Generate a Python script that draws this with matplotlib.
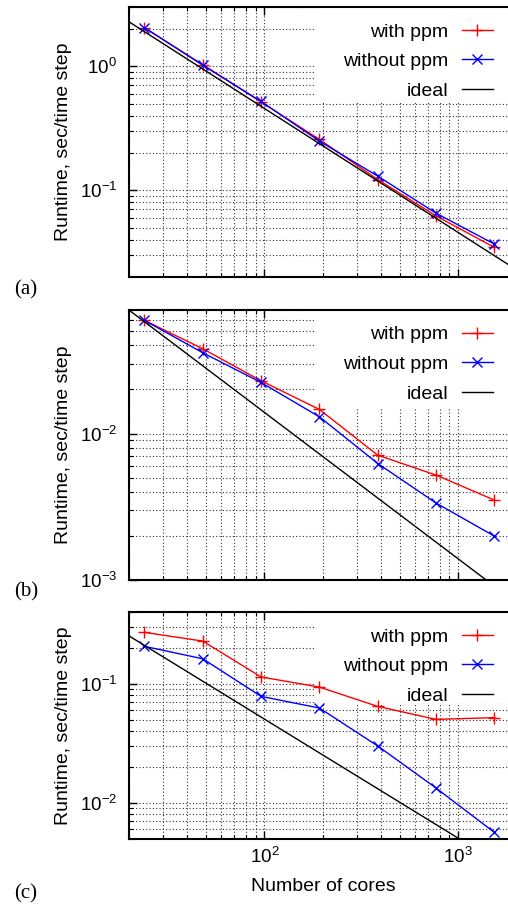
import numpy as np
import matplotlib
matplotlib.use("Agg")
import matplotlib.pyplot as plt
from matplotlib.patches import Rectangle
from matplotlib.ticker import LogLocator, NullFormatter

plt.rcParams['font.family'] = ['Liberation Sans', 'DejaVu Sans']
plt.rcParams['mathtext.default'] = 'regular'

cores = [24, 48, 96, 192, 384, 768, 1536]

# (a)
with_ppm_a = [2.04, 1.03, 0.515, 0.257, 0.122, 0.0621, 0.0346]
without_ppm_a = [2.05, 1.02, 0.52, 0.249, 0.130, 0.0653, 0.0368]
# (b)
with_ppm_b = [0.0592, 0.0379, 0.0229, 0.0146, 0.00711, 0.0052, 0.00351]
without_ppm_b = [0.0592, 0.0356, 0.0223, 0.0130, 0.00624, 0.00335, 0.00199]
# (c)
with_ppm_c = [0.270, 0.228, 0.114, 0.0937, 0.0645, 0.0502, 0.0519]
without_ppm_c = [0.206, 0.162, 0.0783, 0.0625, 0.030, 0.0133, 0.00564]

# ideal scaling reference: runtime at 24 cores
ideal_ref = [1.9, 0.058, 0.21]

panels = [
    ("(a)", with_ppm_a, without_ppm_a, ideal_ref[0], (0.02, 3.0)),
    ("(b)", with_ppm_b, without_ppm_b, ideal_ref[1], (0.001, 0.07)),
    ("(c)", with_ppm_c, without_ppm_c, ideal_ref[2], (0.005, 0.4)),
]

W, H = 508, 907
fig = plt.figure(figsize=(W / 100, H / 100), dpi=100)

# pixel boxes (top, bottom) for each panel
boxes = [(7, 277), (309.7, 580), (612, 838.7)]
left_px, right_px = 129, 516.7
legend_box_h = [96, 98, 91]
label_y = [290, 592, 894]

for i, (tag, wp, wop, ref, ylim) in enumerate(panels):
    top, bot = boxes[i]
    ax = fig.add_axes([left_px / W, 1 - bot / H, (right_px - left_px) / W, (bot - top) / H])
    ax.set_xscale('log')
    ax.set_yscale('log')
    ax.set_xlim(20, 2000)
    ax.set_ylim(*ylim)

    ax.set_axisbelow(True)
    ax.grid(True, which='both', color='0.2', linestyle=(0, (1, 2)), linewidth=0.8)

    # opaque key area, like gnuplot
    hfrac = legend_box_h[i] / (bot - top)
    ax.add_patch(Rectangle((0.48, 1 - hfrac), 0.52, hfrac, transform=ax.transAxes,
                           facecolor='white', edgecolor='none', zorder=1))

    ax.plot(cores, wp, color='#ff0000', marker='+', markersize=8, markeredgewidth=1.0,
            linewidth=1.0, label='with ppm', zorder=3)
    ax.plot(cores, wop, color='#0000ff', marker='x', markersize=7, markeredgewidth=1.0,
            linewidth=1.0, label='without ppm', zorder=3)
    xi = np.array(ax.get_xlim())
    ax.plot(xi, ref * cores[0] / xi, color='black', linewidth=1.0, label='ideal', zorder=3)

    ax.xaxis.set_major_locator(LogLocator(base=10))
    ax.xaxis.set_minor_locator(LogLocator(base=10, subs=np.arange(2, 10)))
    ax.yaxis.set_minor_locator(LogLocator(base=10, subs=np.arange(2, 10)))
    ax.xaxis.set_minor_formatter(NullFormatter())
    ax.yaxis.set_minor_formatter(NullFormatter())

    ax.tick_params(which='both', direction='in', top=True, right=True, labelsize=13.5)
    ax.tick_params(which='major', length=6, width=1.0)
    ax.tick_params(which='minor', length=3, width=0.8)
    ax.tick_params(axis='y', which='both', pad=8.5)
    ax.tick_params(axis='x', which='both', pad=6)
    for s in ax.spines.values():
        s.set_linewidth(1.5)

    ax.set_ylabel('Runtime, sec/time step', fontsize=14)
    ax.yaxis.set_label_coords(-0.147, 0.5)
    if i < 2:
        ax.tick_params(axis='x', labelbottom=False)
    else:
        ax.set_xlabel('Number of cores', fontsize=14)
        ax.xaxis.set_label_coords(0.5, -(878 - bot) / (bot - top))

    ax.legend(loc='upper right', bbox_to_anchor=(492.7 / W, 1 - (top + 16) / H),
              bbox_transform=fig.transFigure, frameon=False, markerfirst=False,
              fontsize=14, handlelength=1.6, handletextpad=0.7, labelspacing=0.62,
              borderpad=0, borderaxespad=0)

    fig.text(26 / W, 1 - label_y[i] / H, tag, family=['Liberation Serif', 'DejaVu Serif'],
             fontsize=15, ha='center', va='center')

fig.savefig('out.png', dpi=100)
